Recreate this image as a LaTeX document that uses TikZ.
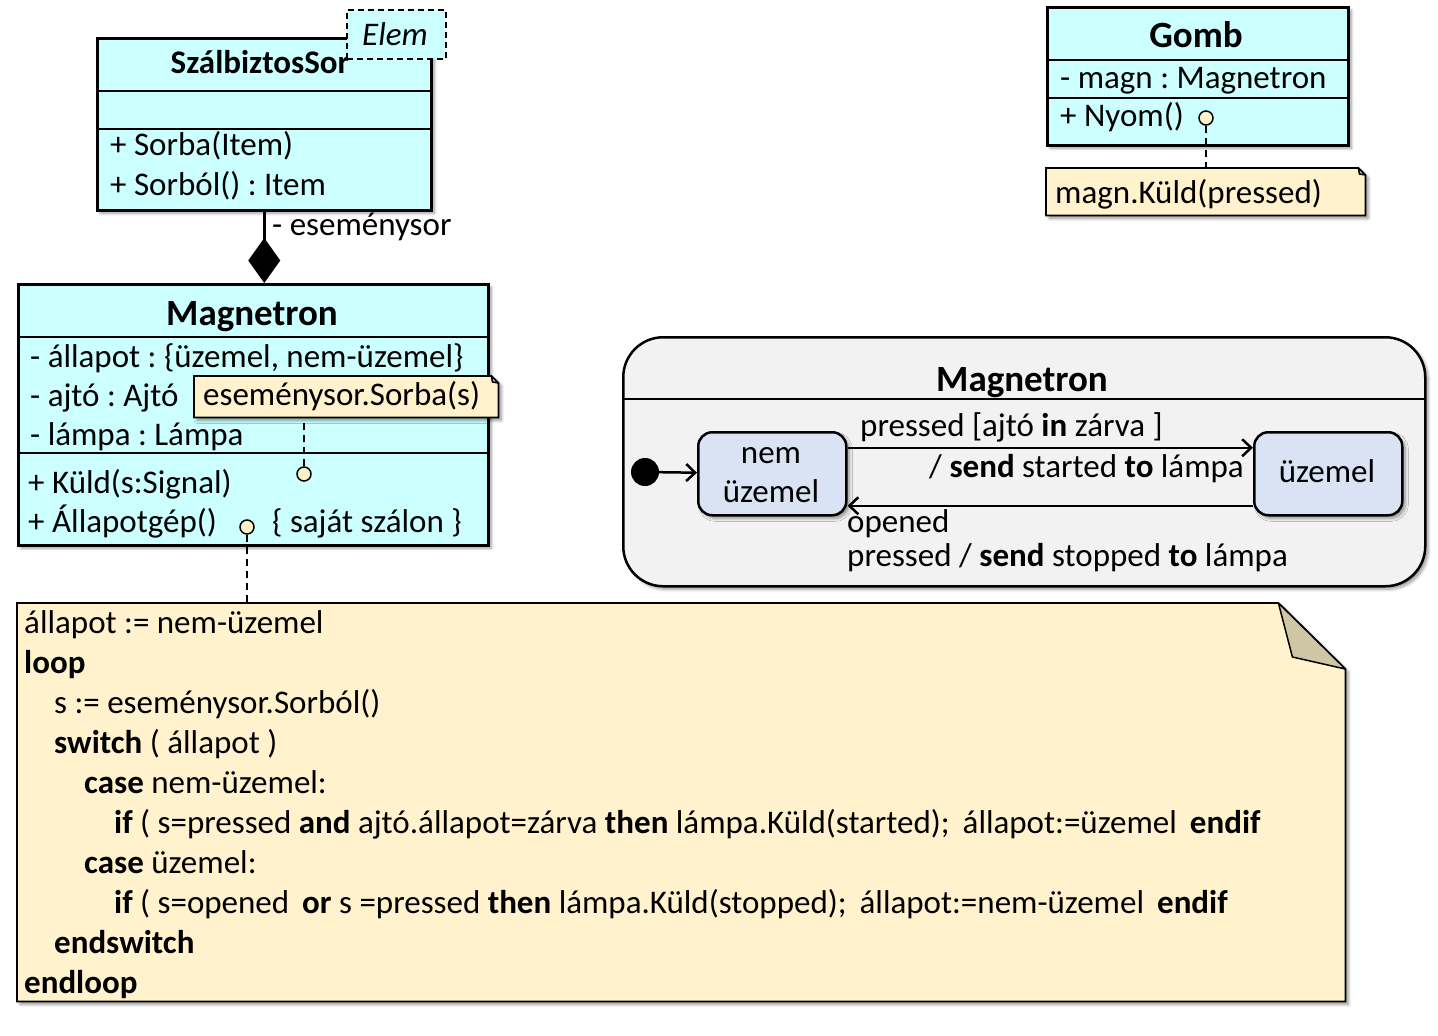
\documentclass[tikz,border=0pt]{standalone}
\usepackage{fontspec}
\setmainfont{Carlito}
\usetikzlibrary{arrows.meta,shadows,shadows.blur,calc}
\definecolor{clsfill}{HTML}{CCFFFF}
\definecolor{notefill}{HTML}{FFF2CC}
\definecolor{foldfill}{HTML}{CFC6A6}
\definecolor{smfill}{HTML}{F2F2F2}
\definecolor{stfill}{HTML}{DAE3F3}
\newcommand\myfs{\fontsize{33}{40}\selectfont\frenchspacing}
\newcommand\mytfs{\fontsize{37}{44}\selectfont\bfseries}
\begin{document}
\begin{tikzpicture}[x=1pt,y=-1pt,
  shd/.style={blur shadow={shadow xshift=3pt,shadow yshift=-3pt,shadow blur radius=3pt,shadow blur steps=6,shadow opacity=40}},
  cls/.style={draw,line width=2.5pt,fill=clsfill,rectangle,inner sep=0pt,anchor=north west,shd},
  area/.style={rectangle,inner sep=0pt,anchor=north west},
  noteline/.style={draw,line width=1.8pt,fill=notefill,shd,line join=miter},
  fold/.style={draw,line width=1.5pt,fill=foldfill,line join=round},
  tx/.style={anchor=base west,inner sep=0pt,font=\myfs},
  txc/.style={anchor=base,inner sep=0pt,font=\myfs},
  ttl/.style={anchor=base,inner sep=0pt,font=\mytfs},
  sep/.style={line width=2.5pt},
  lolli/.style={circle,draw,line width=1.5pt,fill=notefill,minimum size=14pt,inner sep=0pt},
  dsh/.style={line width=2pt,dash pattern=on 7pt off 5pt},
  state/.style={rectangle,rounded corners=14pt,draw,line width=2.5pt,fill=stfill,inner sep=0pt,anchor=north west,shd},
  arr/.style={line width=2.5pt,-{Straight Barb[length=9pt,width=17pt]}}
]
\useasboundingbox (0,0) rectangle (1438,1036);

% ---------- SzalbiztosSor ----------
\node[cls,minimum width=334pt,minimum height=172pt] (szs) at (96,37) {};
\draw[sep] (96,91) -- (430,91);
\draw[sep] (96,129) -- (430,129);
\node[txc,font=\myfs\bfseries] (szst) at (260,73) {SzálbiztosSor};
\node[tx] (szs1) at (110,155) {+ Sorba(Item)};
\node[tx] (szs2) at (110,195) {+ Sorból() : Item};
\node[draw,line width=1.8pt,dash pattern=on 6pt off 4pt,fill=clsfill,rectangle,inner sep=0pt,anchor=north west,minimum width=99pt,minimum height=49pt] (elem) at (346,9) {};
\node[txc,font=\myfs\itshape] (elemt) at (395,45) {Elem};

% ---------- Magnetron class ----------
\node[cls,minimum width=470pt,minimum height=261pt] (mag) at (17,283) {};
\draw[line width=2.5pt,-{Diamond[length=45pt 0 0,width=32pt 0 0]}] (szs.south) -- (szs.south |- mag.north);
\node[tx] (esl) at (272,235) {- eseménysor};
\draw[sep] (17,337) -- (487,337);
\draw[sep] (17,453) -- (487,453);
\node[ttl] (magt) at (252,325) {Magnetron};
\node[tx] (ma1) at (30,367) {- állapot : \{üzemel, nem-üzemel\}};
\node[tx] (ma2) at (30,406) {- ajtó : Ajtó};
\node[tx] (ma3) at (30,445) {- lámpa : Lámpa};
\node[tx] (mm1) at (28,493) {+ Küld(s:Signal)};
\node[tx] (mm2) at (28,532) {+ Állapotgép()};
\node[tx] (mm3) at (272,532) {\{ saját szálon \}};

% note esemenysor.Sorba(s)
\node[area,minimum width=304pt,minimum height=41pt] (n1) at (194,376) {};
\path[noteline] (n1.north west) -- ([xshift=-7pt]n1.north east) -- ([yshift=-7pt]n1.north east) -- (n1.south east) -- (n1.south west) -- cycle;
\path[fold] ([xshift=-7pt]n1.north east) -- ([xshift=-6pt,yshift=-6pt]n1.north east) -- ([yshift=-7pt]n1.north east) -- cycle;
\node[tx] (n1t) at (203,405) {eseménysor.Sorba(s)};
\node[lolli] (c1) at (304,474) {};
\draw[dsh] (c1.north) -- (c1 |- n1.south);
\node[lolli] (c2) at (247,527) {};

% ---------- big note ----------
\node[area,minimum width=1328pt,minimum height=398pt] (bign) at (17,603) {};
\path[noteline] (bign.north west) -- ([xshift=-67pt]bign.north east) -- ([yshift=-66pt]bign.north east) -- (bign.south east) -- (bign.south west) -- cycle;
\path[fold] ([xshift=-67pt]bign.north east) -- ([xshift=-53pt,yshift=-54pt]bign.north east) -- ([yshift=-66pt]bign.north east) -- cycle;
\draw[dsh] (c2.south) -- (c2 |- bign.north);
\node[tx] (b1) at (24,633) {állapot := nem-üzemel};
\node[tx] (b2) at (24,673) {\textbf{loop}};
\node[tx] (b3) at (54,713) {s := eseménysor.Sorból()};
\node[tx] (b4) at (54,753) {\textbf{switch} ( állapot )};
\node[tx] (b5) at (84,793) {\textbf{case} nem-üzemel:};
\node[tx] (b6) at (114,833) {\textbf{if} ( s=pressed \textbf{and} ajtó.állapot=zárva \textbf{then} lámpa.Küld(started);\ \,állapot:=üzemel\ \,\textbf{endif}};
\node[tx] (b7) at (84,873) {\textbf{case} üzemel:};
\node[tx] (b8) at (114,913) {\textbf{if} ( s=opened\ \,\textbf{or} s =pressed \textbf{then} lámpa.Küld(stopped);\ \,állapot:=nem-üzemel\ \,\textbf{endif}};
\node[tx] (b9) at (54,953) {\textbf{endswitch}};
\node[tx] (b10) at (24,993) {\textbf{endloop}};

% ---------- Gomb ----------
\node[cls,minimum width=301pt,minimum height=138pt] (gomb) at (1046,6) {};
\draw[sep] (1046,60) -- (1347,60);
\draw[sep] (1046,98) -- (1347,98);
\node[ttl] (gombt) at (1196,47) {Gomb};
\node[tx] (ga1) at (1060,88) {- magn : Magnetron};
\node[tx] (gm1) at (1060,126) {+ Nyom()};
\node[lolli] (c3) at (1206,118) {};
\node[area,minimum width=319pt,minimum height=47pt] (n3) at (1046,168) {};
\path[noteline] (n3.north west) -- ([xshift=-7pt]n3.north east) -- ([yshift=-7pt]n3.north east) -- (n3.south east) -- (n3.south west) -- cycle;
\path[fold] ([xshift=-7pt]n3.north east) -- ([xshift=-6pt,yshift=-6pt]n3.north east) -- ([yshift=-7pt]n3.north east) -- cycle;
\draw[dsh] (c3.south) -- (c3 |- n3.north);
\node[tx] (n3t) at (1055,203) {magn.Küld(pressed)};

% ---------- state machine ----------
\node[rectangle,rounded corners=40pt,draw,line width=2.5pt,fill=smfill,inner sep=0pt,anchor=north west,minimum width=802pt,minimum height=249pt,shd] (sm) at (622,336) {};
\draw[sep] (622,399) -- (1424,399);
\node[ttl] (smt) at (1022,391) {Magnetron};
\node[state,minimum width=148pt,minimum height=83pt] (nem) at (697,431) {};
\node[txc] (nemt1) at (771,463) {nem};
\node[txc] (nemt2) at (771,502) {üzemel};
\node[state,minimum width=148pt,minimum height=83pt] (uz) at (1253,431) {};
\node[txc] (uzt) at (1327,482) {üzemel};
\node[circle,fill=black,minimum size=28pt,inner sep=0pt] (init) at (645,472) {};
\draw[arr] (init) -- (nem);
\draw[arr] ([yshift=26pt]nem.east) -- ([yshift=26pt]uz.west);
\draw[arr] ([yshift=-32pt]uz.west) -- ([yshift=-32pt]nem.east);
\node[tx] (l1) at (860,436) {pressed [ajtó \textbf{in} zárva ]};
\node[anchor=base east,inner sep=0pt,font=\myfs] (l2) at (1244,477) {/ \textbf{send} started \textbf{to} lámpa};
\node[tx] (l3) at (847,532) {opened};
\node[tx] (l4) at (847,566) {pressed / \textbf{send} stopped \textbf{to} lámpa};
\end{tikzpicture}
\end{document}
